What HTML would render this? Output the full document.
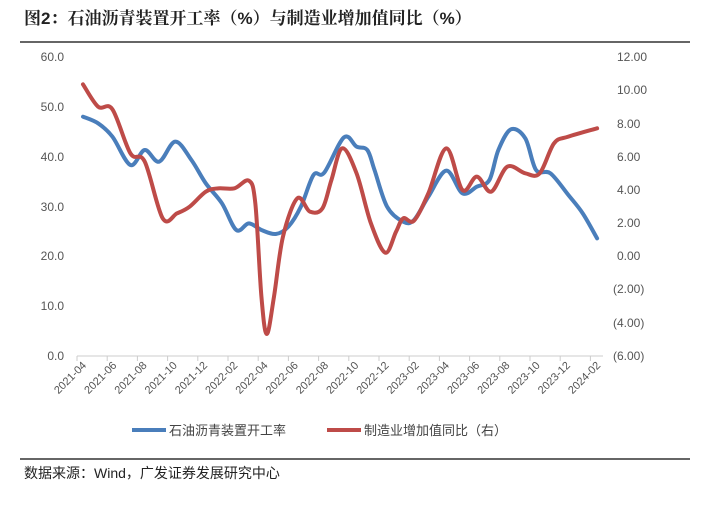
<!DOCTYPE html>
<html><head><meta charset="utf-8"><style>
body{margin:0;background:#fff;width:708px;height:500px;overflow:hidden;font-family:"Liberation Sans","Noto Sans CJK SC",sans-serif}
</style></head><body>
<svg width="708" height="500" xmlns="http://www.w3.org/2000/svg" font-family="Liberation Sans, Noto Sans CJK SC, sans-serif">
<text x="24" y="24" font-size="17" font-weight="bold" fill="#222" font-family="Liberation Sans, Noto Serif CJK SC, serif">图2：石油沥青装置开工率（%）与制造业增加值同比（%）</text>
<line x1="20" y1="42" x2="690" y2="42" stroke="#333" stroke-width="1.5"/>
<g font-size="12" fill="#555">
<text x="64" y="61" text-anchor="end">60.0</text>
<text x="64" y="111" text-anchor="end">50.0</text>
<text x="64" y="161" text-anchor="end">40.0</text>
<text x="64" y="211" text-anchor="end">30.0</text>
<text x="64" y="260" text-anchor="end">20.0</text>
<text x="64" y="310" text-anchor="end">10.0</text>
<text x="64" y="360" text-anchor="end">0.0</text>
<text x="617" y="61">12.00</text>
<text x="617" y="94">10.00</text>
<text x="617" y="128">8.00</text>
<text x="617" y="161">6.00</text>
<text x="617" y="194">4.00</text>
<text x="617" y="227">2.00</text>
<text x="617" y="260">0.00</text>
<text x="613" y="293">(2.00)</text>
<text x="613" y="327">(4.00)</text>
<text x="613" y="360">(6.00)</text>
</g>
<g id="ax" stroke="#ccc" stroke-width="1"></g>
<g id="xl" font-size="11" fill="#555"></g>
<path id="b" fill="none" stroke="#4a7ebb" stroke-width="4" stroke-linecap="round" stroke-linejoin="round"/>
<path id="r" fill="none" stroke="#be4b48" stroke-width="4" stroke-linecap="round" stroke-linejoin="round"/>
<line x1="132" y1="430" x2="166" y2="430" stroke="#4a7ebb" stroke-width="4"/>
<text x="169" y="435" font-size="13" fill="#444">石油沥青装置开工率</text>
<line x1="327" y1="430" x2="361" y2="430" stroke="#be4b48" stroke-width="4"/>
<text x="364" y="435" font-size="13" fill="#444">制造业增加值同比（右）</text>
<line x1="20" y1="459" x2="690" y2="459" stroke="#333" stroke-width="1.5"/>
<text x="24" y="478" font-size="14" fill="#222">数据来源：Wind，广发证券发展研究中心</text>
</svg>
<script>
var B=[[68,200],[110,220],[150,260],[200,345],[240,300],[280,335],[325,275],[370,330],[410,400],[455,460],[495,540],[530,520],[565,540],[605,552],[640,530],[675,470],[710,375],[740,368],[795,262],[830,290],[860,300],[880,360],[915,470],[960,515],[990,510],[1030,440],[1080,362],[1125,430],[1165,410],[1200,390],[1225,300],[1260,238],[1300,265],[1330,360],[1370,370],[1420,435],[1460,490],[1500,565]];
var R=[[68,103],[110,170],[150,178],[200,310],[240,335],[290,505],[330,490],[365,470],[410,425],[445,415],[490,415],[530,392],[548,460],[565,740],[580,852],[600,740],[625,560],[665,445],[700,485],[735,475],[760,390],[790,295],[830,370],[870,520],[910,608],[940,545],[960,505],[990,512],[1030,430],[1080,295],[1125,420],[1165,380],[1205,425],[1250,350],[1300,370],[1340,370],[1380,280],[1420,260],[1500,235]];
function path(P){P=P.map(function(p){return[83+(p[0]-68)*0.359,p[1]/3+50]});var d="M"+P[0];for(var i=0;i<P.length-1;i++){var p0=P[i-1]||P[i],p1=P[i],p2=P[i+1],p3=P[i+2]||p2;
d+=" C"+(p1[0]+(p2[0]-p0[0])/6)+","+(p1[1]+(p2[1]-p0[1])/6)+" "+(p2[0]-(p3[0]-p1[0])/6)+","+(p2[1]-(p3[1]-p1[1])/6)+" "+p2;}return d;}
document.getElementById("b").setAttribute("d",path(B));
document.getElementById("r").setAttribute("d",path(R));
var ns="http://www.w3.org/2000/svg",ax=document.getElementById("ax"),xl=document.getElementById("xl");
function el(t,a,p){var e=document.createElementNS(ns,t);for(var k in a)e.setAttribute(k,a[k]);p.appendChild(e);return e;}
el("line",{x1:77,y1:356,x2:603,y2:356},ax);
var labs=["2021-04","2021-06","2021-08","2021-10","2021-12","2022-02","2022-04","2022-06","2022-08","2022-10","2022-12","2023-02","2023-04","2023-06","2023-08","2023-10","2023-12","2024-02"];
for(var i=0;i<18;i++){var x=77+i*30.2;el("line",{x1:x,y1:356,x2:x,y2:361},ax);
var cx=83+i*30.24;var t=el("text",{x:cx+4,y:366,"text-anchor":"end",transform:"rotate(-45 "+(cx+4)+" 366)"},xl);t.textContent=labs[i];}
</script>
</body></html>
